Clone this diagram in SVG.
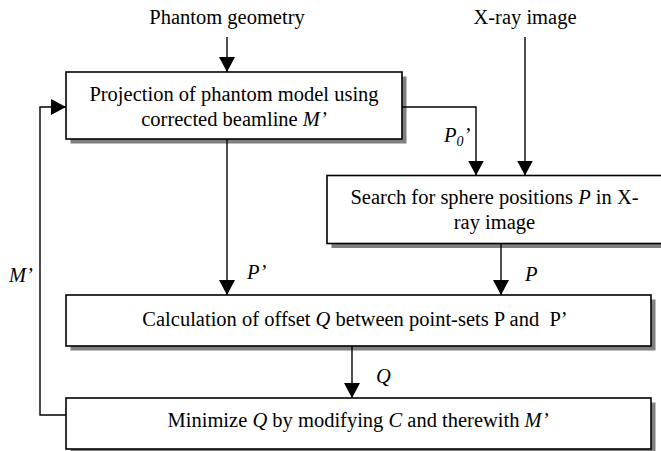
<svg xmlns="http://www.w3.org/2000/svg" width="661" height="451" viewBox="0 0 661 451">
  <style>
    text { font-family: "Liberation Serif", "DejaVu Serif", serif; font-size: 20.5px; fill: #000; }
    .c { text-anchor: middle; }
    .i { font-style: italic; }
    .box { fill: #fff; stroke: #000; stroke-width: 1.6; }
    .shadow { fill: #808080; }
    .wire { fill: none; stroke: #000; stroke-width: 1.4; }
  </style>
  <defs>
    <marker id="arrow" viewBox="0 0 15 16" refX="15" refY="8" markerWidth="15" markerHeight="16" markerUnits="userSpaceOnUse" orient="auto">
      <path d="M0,0 L15,8 L0,16 Z" fill="#000"/>
    </marker>
  </defs>
  <rect width="661" height="451" fill="#fff"/>

  <!-- inputs -->
  <text class="c" x="227" y="24">Phantom geometry</text>
  <text class="c" x="525" y="24">X-ray image</text>

  <g id="projection">
    <rect class="shadow" x="70.5" y="76.5" width="336" height="67"/>
    <rect class="box" x="66" y="72" width="336" height="67"/>
    <text class="c" x="234" y="101">Projection of phantom model using</text>
    <text class="c" x="234" y="126">corrected beamline <tspan class="i">M’</tspan></text>
  </g>

  <g id="search">
    <rect class="shadow" x="331.5" y="180" width="336" height="68"/>
    <rect class="box" x="327" y="175.5" width="336" height="68"/>
    <text class="c" x="494.5" y="204">Search for sphere positions <tspan class="i">P</tspan> in X-</text>
    <text class="c" x="494.5" y="229">ray image</text>
  </g>

  <g id="calculation">
    <rect class="shadow" x="70.5" y="299.5" width="585" height="51"/>
    <rect class="box" x="66" y="295" width="585" height="51"/>
    <text class="c" x="355" y="326" style="white-space:pre">Calculation of offset <tspan class="i">Q</tspan> between point-sets P and  P’</text>
  </g>

  <g id="minimize">
    <rect class="shadow" x="70.5" y="402.5" width="585" height="51"/>
    <rect class="box" x="66" y="398" width="585" height="51"/>
    <text class="c" x="358" y="427">Minimize <tspan class="i">Q</tspan> by modifying <tspan class="i">C</tspan> and therewith <tspan class="i">M’</tspan></text>
  </g>

  <g id="connectors">
    <path class="wire" d="M227,37 V72" marker-end="url(#arrow)"/>
    <path class="wire" d="M525,37 V175.5" marker-end="url(#arrow)"/>
    <path class="wire" d="M402,107 H476 V175.5" marker-end="url(#arrow)"/>
    <path class="wire" d="M227,139 V295" marker-end="url(#arrow)"/>
    <path class="wire" d="M501,243.5 V295" marker-end="url(#arrow)"/>
    <path class="wire" d="M352,346 V398" marker-end="url(#arrow)"/>
    <path class="wire" d="M66,415 H40 V107 H66" marker-end="url(#arrow)"/>
    <text class="i" x="444" y="142">P<tspan font-size="14" dy="4">0</tspan><tspan dy="-4">’</tspan></text>
    <text class="i" x="247" y="279">P’</text>
    <text class="i" x="525" y="281">P</text>
    <text class="i" x="376" y="383">Q</text>
    <text class="i" x="9" y="282">M’</text>
  </g>
</svg>
